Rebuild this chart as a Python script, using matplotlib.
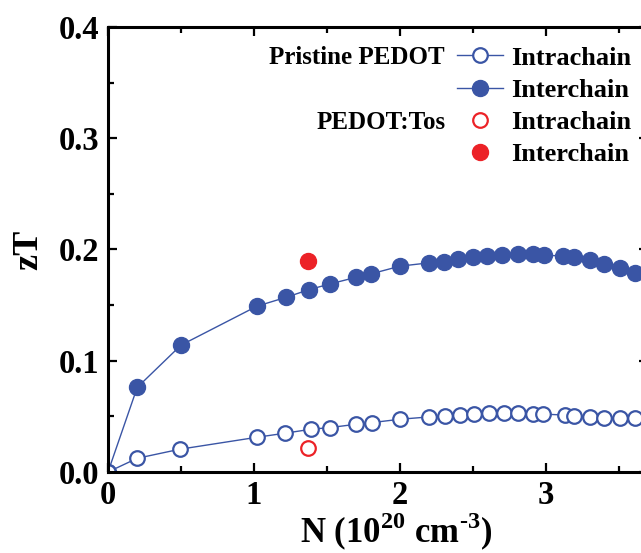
import matplotlib
matplotlib.use("Agg")
import matplotlib.pyplot as plt
from matplotlib.lines import Line2D
from matplotlib.ticker import MultipleLocator, FormatStrFormatter

plt.rcParams["font.family"] = ["Liberation Serif", "DejaVu Serif"]
plt.rcParams["font.weight"] = "bold"
plt.rcParams["mathtext.fontset"] = "custom"
plt.rcParams["mathtext.rm"] = "Liberation Serif:bold"
plt.rcParams["mathtext.bf"] = "Liberation Serif:bold"

# Pristine PEDOT, interchain transport
n_inter = [0, 0.2, 0.5, 1.02, 1.22, 1.38, 1.52, 1.70, 1.80, 2.0, 2.2, 2.3, 2.4,
           2.5, 2.6, 2.7, 2.81, 2.91, 2.99, 3.12, 3.19, 3.30, 3.40, 3.51, 3.61]
zt_inter = [0, 0.076, 0.114, 0.149, 0.157, 0.164, 0.169, 0.175, 0.178, 0.185,
            0.188, 0.189, 0.1915, 0.1935, 0.1945, 0.195, 0.1957, 0.1957, 0.195,
            0.194, 0.193, 0.1906, 0.1867, 0.183, 0.1786]

# Pristine PEDOT, intrachain transport
n_intra = [0, 0.2, 0.49, 1.02, 1.21, 1.39, 1.52, 1.70, 1.81, 2.0, 2.2, 2.31, 2.41,
           2.51, 2.61, 2.71, 2.81, 2.91, 2.98, 3.13, 3.19, 3.30, 3.40, 3.51, 3.61]
zt_intra = [0, 0.0123, 0.0204, 0.0312, 0.0348, 0.0384, 0.0399, 0.0429, 0.0444,
            0.0474, 0.0495, 0.0506, 0.0512, 0.052, 0.0527, 0.0527, 0.0527, 0.0519,
            0.052, 0.0512, 0.0506, 0.0497, 0.0488, 0.0483, 0.0483]

# PEDOT:Tos experimental points
n_tos = [1.37]
zt_tos_intra = [0.0213]
zt_tos_inter = [0.190]

blue = "#3a55a5"
red = "#ec2227"

fig = plt.figure(figsize=(6.41, 5.53), dpi=100)
ax = fig.add_axes([0.1685, 0.1465, 0.8424, 0.8047])

ax.plot(n_inter, zt_inter, "-o", color=blue, lw=1.0, ms=11.5, mfc=blue, mec=blue)
ax.plot(n_intra, zt_intra, "-o", color=blue, lw=1.0, ms=10.5, mfc="white",
        mec=blue, mew=1.6)
ax.plot(n_tos, zt_tos_intra, "o", ms=10.5, mfc="white", mec=red, mew=1.6)
ax.plot(n_tos, zt_tos_inter, "o", ms=11.5, mfc=red, mec=red)

ax.set_xlim(0, 3.7)
ax.set_ylim(0, 0.4)
ax.xaxis.set_major_locator(MultipleLocator(1))
ax.xaxis.set_minor_locator(MultipleLocator(0.5))
ax.yaxis.set_major_locator(MultipleLocator(0.1))
ax.yaxis.set_minor_locator(MultipleLocator(0.05))
ax.yaxis.set_major_formatter(FormatStrFormatter("%.1f"))

for s in ax.spines.values():
    s.set_linewidth(2.2)
ax.tick_params(which="both", direction="in", top=True, right=True, width=1.6,
               labelsize=23.5)
ax.tick_params(which="major", length=6.5)
ax.tick_params(which="minor", length=4.5)
ax.tick_params(axis="x", which="major", pad=6)
ax.tick_params(axis="y", which="major", pad=6)

ax.set_xlabel(r"N (10$^{20}$ cm$^{\text{-3}}$)", fontsize=25, fontweight="bold")
ax.xaxis.set_label_coords(0.533, -0.088)
ax.set_ylabel("zT", fontsize=26, fontweight="bold", labelpad=10)

handles = [
    Line2D([], [], color=blue, lw=1.0, marker="o", ms=10.5, mfc="white", mec=blue, mew=1.6),
    Line2D([], [], color=blue, lw=1.0, marker="o", ms=11.5, mfc=blue, mec=blue),
    Line2D([], [], ls="none", marker="o", ms=10.5, mfc="white", mec=red, mew=1.6),
    Line2D([], [], ls="none", marker="o", ms=11.5, mfc=red, mec=red),
]
labels = ["Intrachain", "Interchain", "Intrachain", "Interchain"]
ax.legend(handles, labels, loc="upper left", bbox_to_anchor=(0.646, 0.957),
          frameon=False, fontsize=19, handlelength=1.75, handletextpad=0.3,
          labelspacing=0.33, borderpad=0, borderaxespad=0)

ax.text(0.624, 0.931, "Pristine PEDOT", transform=ax.transAxes,
        fontsize=18, ha="right", va="center")
ax.text(0.626, 0.785, "PEDOT:Tos", transform=ax.transAxes,
        fontsize=18, ha="right", va="center")

fig.savefig("out.png", dpi=100)
